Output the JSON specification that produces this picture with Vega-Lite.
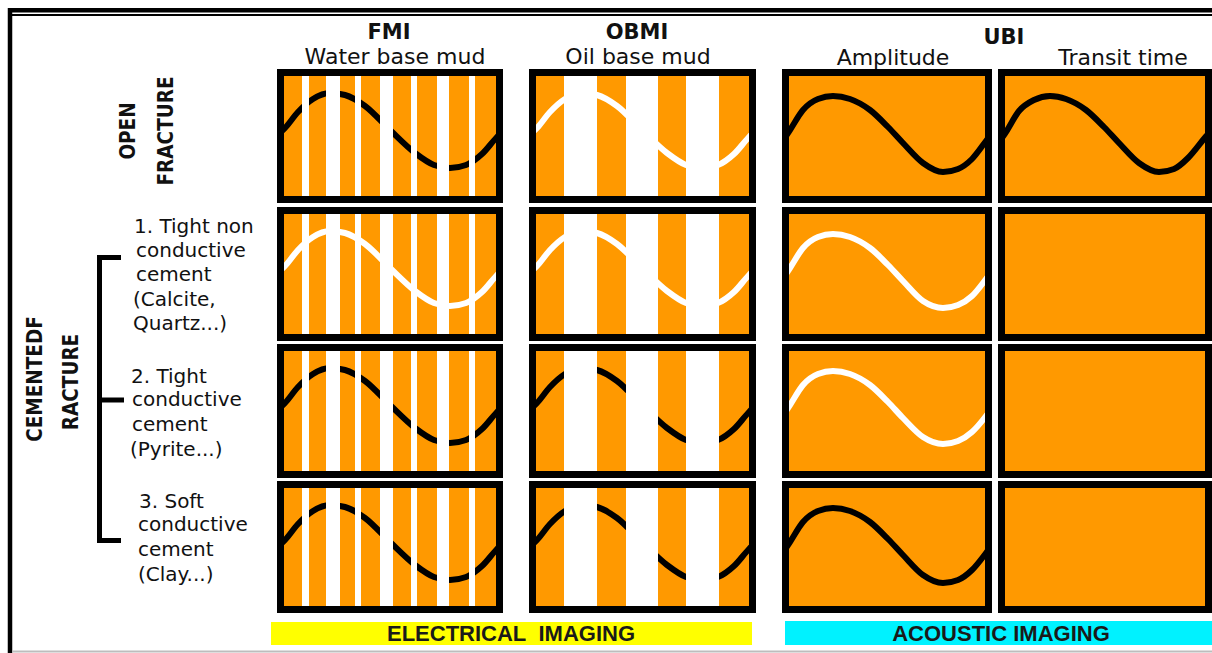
{
  "$schema": "https://vega.github.io/schema/vega-lite/v6.json",
  "width": 1212,
  "height": 653,
  "autosize": {"type": "none"},
  "padding": 0,
  "background": "#ffffff",
  "config": {"view": {"stroke": null}},
  "datasets": {
    "frameThick": [
      {"x": 8, "x2": 1212, "y": 10.3, "y2": 10.3},
      {"x": 10, "x2": 10, "y": 8, "y2": 653}
    ],
    "frameThin": [
      {"x": 12, "x2": 1212, "y": 15, "y2": 15}
    ],
    "frameBottom": [
      {"x": 12, "x2": 1212, "y": 651.5, "y2": 651.5}
    ],
    "bracket": [
      {"x": 99.5, "x2": 99.5, "y": 255, "y2": 543},
      {"x": 97, "x2": 121, "y": 257.5, "y2": 257.5},
      {"x": 99.5, "x2": 124, "y": 400, "y2": 400},
      {"x": 97, "x2": 121, "y": 540.5, "y2": 540.5}
    ],
    "panels": [
      {"col": "FMI", "row": 1, "x": 280.5, "x2": 499.5, "y": 72.5, "y2": 199.5},
      {"col": "FMI", "row": 2, "x": 280.5, "x2": 499.5, "y": 210.5, "y2": 337.5},
      {"col": "FMI", "row": 3, "x": 280.5, "x2": 499.5, "y": 347.5, "y2": 474.5},
      {"col": "FMI", "row": 4, "x": 280.5, "x2": 499.5, "y": 484.5, "y2": 609.5},
      {"col": "OBMI", "row": 1, "x": 532.5, "x2": 752.5, "y": 72.5, "y2": 199.5},
      {"col": "OBMI", "row": 2, "x": 532.5, "x2": 752.5, "y": 210.5, "y2": 337.5},
      {"col": "OBMI", "row": 3, "x": 532.5, "x2": 752.5, "y": 347.5, "y2": 474.5},
      {"col": "OBMI", "row": 4, "x": 532.5, "x2": 752.5, "y": 484.5, "y2": 609.5},
      {"col": "Amplitude", "row": 1, "x": 785.5, "x2": 988.5, "y": 72.5, "y2": 199.5},
      {"col": "Amplitude", "row": 2, "x": 785.5, "x2": 988.5, "y": 210.5, "y2": 337.5},
      {"col": "Amplitude", "row": 3, "x": 785.5, "x2": 988.5, "y": 347.5, "y2": 474.5},
      {"col": "Amplitude", "row": 4, "x": 785.5, "x2": 988.5, "y": 484.5, "y2": 609.5},
      {"col": "Transit", "row": 1, "x": 1001.5, "x2": 1208.5, "y": 72.5, "y2": 199.5},
      {"col": "Transit", "row": 2, "x": 1001.5, "x2": 1208.5, "y": 210.5, "y2": 337.5},
      {"col": "Transit", "row": 3, "x": 1001.5, "x2": 1208.5, "y": 347.5, "y2": 474.5},
      {"col": "Transit", "row": 4, "x": 1001.5, "x2": 1208.5, "y": 484.5, "y2": 609.5}
    ],
    "stripes": [
      {"x": 302, "x2": 309, "y": 69, "y2": 613},
      {"x": 326, "x2": 340, "y": 69, "y2": 613},
      {"x": 355, "x2": 361, "y": 69, "y2": 613},
      {"x": 380, "x2": 393, "y": 69, "y2": 613},
      {"x": 411, "x2": 417, "y": 69, "y2": 613},
      {"x": 437, "x2": 449, "y": 69, "y2": 613},
      {"x": 469, "x2": 475, "y": 69, "y2": 613},
      {"x": 564, "x2": 597, "y": 69, "y2": 613},
      {"x": 626, "x2": 658, "y": 69, "y2": 613},
      {"x": 686, "x2": 719, "y": 69, "y2": 613}
    ],
    "waves": [
      {"curve": "FMI1", "tone": "dark", "x": 281, "y": 132}, {"curve": "FMI1", "tone": "dark", "x": 285, "y": 128}, {"curve": "FMI1", "tone": "dark", "x": 298, "y": 112}, {"curve": "FMI1", "tone": "dark", "x": 313, "y": 99}, {"curve": "FMI1", "tone": "dark", "x": 330, "y": 93}, {"curve": "FMI1", "tone": "dark", "x": 345, "y": 95}, {"curve": "FMI1", "tone": "dark", "x": 365, "y": 106}, {"curve": "FMI1", "tone": "dark", "x": 390, "y": 130}, {"curve": "FMI1", "tone": "dark", "x": 415, "y": 153}, {"curve": "FMI1", "tone": "dark", "x": 434, "y": 165}, {"curve": "FMI1", "tone": "dark", "x": 450, "y": 168}, {"curve": "FMI1", "tone": "dark", "x": 466, "y": 165}, {"curve": "FMI1", "tone": "dark", "x": 482, "y": 154}, {"curve": "FMI1", "tone": "dark", "x": 497, "y": 137}, {"curve": "FMI1", "tone": "dark", "x": 500, "y": 134},
      {"curve": "FMI2", "tone": "light", "x": 281, "y": 270}, {"curve": "FMI2", "tone": "light", "x": 285, "y": 266}, {"curve": "FMI2", "tone": "light", "x": 298, "y": 250}, {"curve": "FMI2", "tone": "light", "x": 313, "y": 237}, {"curve": "FMI2", "tone": "light", "x": 330, "y": 231}, {"curve": "FMI2", "tone": "light", "x": 345, "y": 233}, {"curve": "FMI2", "tone": "light", "x": 365, "y": 244}, {"curve": "FMI2", "tone": "light", "x": 390, "y": 268}, {"curve": "FMI2", "tone": "light", "x": 415, "y": 291}, {"curve": "FMI2", "tone": "light", "x": 434, "y": 303}, {"curve": "FMI2", "tone": "light", "x": 450, "y": 306}, {"curve": "FMI2", "tone": "light", "x": 466, "y": 303}, {"curve": "FMI2", "tone": "light", "x": 482, "y": 292}, {"curve": "FMI2", "tone": "light", "x": 497, "y": 275}, {"curve": "FMI2", "tone": "light", "x": 500, "y": 272},
      {"curve": "FMI3", "tone": "dark", "x": 281, "y": 407}, {"curve": "FMI3", "tone": "dark", "x": 285, "y": 403}, {"curve": "FMI3", "tone": "dark", "x": 298, "y": 387}, {"curve": "FMI3", "tone": "dark", "x": 313, "y": 374}, {"curve": "FMI3", "tone": "dark", "x": 330, "y": 368}, {"curve": "FMI3", "tone": "dark", "x": 345, "y": 370}, {"curve": "FMI3", "tone": "dark", "x": 365, "y": 381}, {"curve": "FMI3", "tone": "dark", "x": 390, "y": 405}, {"curve": "FMI3", "tone": "dark", "x": 415, "y": 428}, {"curve": "FMI3", "tone": "dark", "x": 434, "y": 440}, {"curve": "FMI3", "tone": "dark", "x": 450, "y": 443}, {"curve": "FMI3", "tone": "dark", "x": 466, "y": 440}, {"curve": "FMI3", "tone": "dark", "x": 482, "y": 429}, {"curve": "FMI3", "tone": "dark", "x": 497, "y": 412}, {"curve": "FMI3", "tone": "dark", "x": 500, "y": 409},
      {"curve": "FMI4", "tone": "dark", "x": 281, "y": 544}, {"curve": "FMI4", "tone": "dark", "x": 285, "y": 540}, {"curve": "FMI4", "tone": "dark", "x": 298, "y": 524}, {"curve": "FMI4", "tone": "dark", "x": 313, "y": 511}, {"curve": "FMI4", "tone": "dark", "x": 330, "y": 505}, {"curve": "FMI4", "tone": "dark", "x": 345, "y": 507}, {"curve": "FMI4", "tone": "dark", "x": 365, "y": 518}, {"curve": "FMI4", "tone": "dark", "x": 390, "y": 542}, {"curve": "FMI4", "tone": "dark", "x": 415, "y": 565}, {"curve": "FMI4", "tone": "dark", "x": 434, "y": 577}, {"curve": "FMI4", "tone": "dark", "x": 450, "y": 580}, {"curve": "FMI4", "tone": "dark", "x": 466, "y": 577}, {"curve": "FMI4", "tone": "dark", "x": 482, "y": 566}, {"curve": "FMI4", "tone": "dark", "x": 497, "y": 549}, {"curve": "FMI4", "tone": "dark", "x": 500, "y": 546},
      {"curve": "OBMI1", "tone": "light", "x": 533, "y": 132}, {"curve": "OBMI1", "tone": "light", "x": 537, "y": 128}, {"curve": "OBMI1", "tone": "light", "x": 550, "y": 112}, {"curve": "OBMI1", "tone": "light", "x": 565, "y": 99}, {"curve": "OBMI1", "tone": "light", "x": 582, "y": 93}, {"curve": "OBMI1", "tone": "light", "x": 597, "y": 95}, {"curve": "OBMI1", "tone": "light", "x": 617, "y": 106}, {"curve": "OBMI1", "tone": "light", "x": 642, "y": 130}, {"curve": "OBMI1", "tone": "light", "x": 667, "y": 153}, {"curve": "OBMI1", "tone": "light", "x": 686, "y": 165}, {"curve": "OBMI1", "tone": "light", "x": 702, "y": 168}, {"curve": "OBMI1", "tone": "light", "x": 718, "y": 165}, {"curve": "OBMI1", "tone": "light", "x": 734, "y": 154}, {"curve": "OBMI1", "tone": "light", "x": 749, "y": 137}, {"curve": "OBMI1", "tone": "light", "x": 752, "y": 134},
      {"curve": "OBMI2", "tone": "light", "x": 533, "y": 270}, {"curve": "OBMI2", "tone": "light", "x": 537, "y": 266}, {"curve": "OBMI2", "tone": "light", "x": 550, "y": 250}, {"curve": "OBMI2", "tone": "light", "x": 565, "y": 237}, {"curve": "OBMI2", "tone": "light", "x": 582, "y": 231}, {"curve": "OBMI2", "tone": "light", "x": 597, "y": 233}, {"curve": "OBMI2", "tone": "light", "x": 617, "y": 244}, {"curve": "OBMI2", "tone": "light", "x": 642, "y": 268}, {"curve": "OBMI2", "tone": "light", "x": 667, "y": 291}, {"curve": "OBMI2", "tone": "light", "x": 686, "y": 303}, {"curve": "OBMI2", "tone": "light", "x": 702, "y": 306}, {"curve": "OBMI2", "tone": "light", "x": 718, "y": 303}, {"curve": "OBMI2", "tone": "light", "x": 734, "y": 292}, {"curve": "OBMI2", "tone": "light", "x": 749, "y": 275}, {"curve": "OBMI2", "tone": "light", "x": 752, "y": 272},
      {"curve": "OBMI3", "tone": "dark", "x": 533, "y": 407}, {"curve": "OBMI3", "tone": "dark", "x": 537, "y": 403}, {"curve": "OBMI3", "tone": "dark", "x": 550, "y": 387}, {"curve": "OBMI3", "tone": "dark", "x": 565, "y": 374}, {"curve": "OBMI3", "tone": "dark", "x": 582, "y": 368}, {"curve": "OBMI3", "tone": "dark", "x": 597, "y": 370}, {"curve": "OBMI3", "tone": "dark", "x": 617, "y": 381}, {"curve": "OBMI3", "tone": "dark", "x": 642, "y": 405}, {"curve": "OBMI3", "tone": "dark", "x": 667, "y": 428}, {"curve": "OBMI3", "tone": "dark", "x": 686, "y": 440}, {"curve": "OBMI3", "tone": "dark", "x": 702, "y": 443}, {"curve": "OBMI3", "tone": "dark", "x": 718, "y": 440}, {"curve": "OBMI3", "tone": "dark", "x": 734, "y": 429}, {"curve": "OBMI3", "tone": "dark", "x": 749, "y": 412}, {"curve": "OBMI3", "tone": "dark", "x": 752, "y": 409},
      {"curve": "OBMI4", "tone": "dark", "x": 533, "y": 544}, {"curve": "OBMI4", "tone": "dark", "x": 537, "y": 540}, {"curve": "OBMI4", "tone": "dark", "x": 550, "y": 524}, {"curve": "OBMI4", "tone": "dark", "x": 565, "y": 511}, {"curve": "OBMI4", "tone": "dark", "x": 582, "y": 505}, {"curve": "OBMI4", "tone": "dark", "x": 597, "y": 507}, {"curve": "OBMI4", "tone": "dark", "x": 617, "y": 518}, {"curve": "OBMI4", "tone": "dark", "x": 642, "y": 542}, {"curve": "OBMI4", "tone": "dark", "x": 667, "y": 565}, {"curve": "OBMI4", "tone": "dark", "x": 686, "y": 577}, {"curve": "OBMI4", "tone": "dark", "x": 702, "y": 580}, {"curve": "OBMI4", "tone": "dark", "x": 718, "y": 577}, {"curve": "OBMI4", "tone": "dark", "x": 734, "y": 566}, {"curve": "OBMI4", "tone": "dark", "x": 749, "y": 549}, {"curve": "OBMI4", "tone": "dark", "x": 752, "y": 546},
      {"curve": "AMP1", "tone": "dark", "x": 786, "y": 136}, {"curve": "AMP1", "tone": "dark", "x": 790, "y": 130}, {"curve": "AMP1", "tone": "dark", "x": 803, "y": 110}, {"curve": "AMP1", "tone": "dark", "x": 818, "y": 99}, {"curve": "AMP1", "tone": "dark", "x": 833, "y": 96}, {"curve": "AMP1", "tone": "dark", "x": 850, "y": 99}, {"curve": "AMP1", "tone": "dark", "x": 870, "y": 110}, {"curve": "AMP1", "tone": "dark", "x": 888, "y": 127}, {"curve": "AMP1", "tone": "dark", "x": 903, "y": 143}, {"curve": "AMP1", "tone": "dark", "x": 923, "y": 163}, {"curve": "AMP1", "tone": "dark", "x": 943, "y": 172}, {"curve": "AMP1", "tone": "dark", "x": 958, "y": 169}, {"curve": "AMP1", "tone": "dark", "x": 972, "y": 159}, {"curve": "AMP1", "tone": "dark", "x": 986, "y": 141}, {"curve": "AMP1", "tone": "dark", "x": 989, "y": 137},
      {"curve": "AMP2", "tone": "light", "x": 786, "y": 274}, {"curve": "AMP2", "tone": "light", "x": 790, "y": 268}, {"curve": "AMP2", "tone": "light", "x": 803, "y": 248}, {"curve": "AMP2", "tone": "light", "x": 818, "y": 237}, {"curve": "AMP2", "tone": "light", "x": 833, "y": 234}, {"curve": "AMP2", "tone": "light", "x": 850, "y": 237}, {"curve": "AMP2", "tone": "light", "x": 870, "y": 248}, {"curve": "AMP2", "tone": "light", "x": 888, "y": 265}, {"curve": "AMP2", "tone": "light", "x": 903, "y": 281}, {"curve": "AMP2", "tone": "light", "x": 923, "y": 301}, {"curve": "AMP2", "tone": "light", "x": 943, "y": 308}, {"curve": "AMP2", "tone": "light", "x": 958, "y": 305}, {"curve": "AMP2", "tone": "light", "x": 972, "y": 296}, {"curve": "AMP2", "tone": "light", "x": 986, "y": 279}, {"curve": "AMP2", "tone": "light", "x": 989, "y": 275},
      {"curve": "AMP3", "tone": "light", "x": 786, "y": 411}, {"curve": "AMP3", "tone": "light", "x": 790, "y": 405}, {"curve": "AMP3", "tone": "light", "x": 803, "y": 385}, {"curve": "AMP3", "tone": "light", "x": 818, "y": 374}, {"curve": "AMP3", "tone": "light", "x": 833, "y": 371}, {"curve": "AMP3", "tone": "light", "x": 850, "y": 374}, {"curve": "AMP3", "tone": "light", "x": 870, "y": 385}, {"curve": "AMP3", "tone": "light", "x": 888, "y": 402}, {"curve": "AMP3", "tone": "light", "x": 903, "y": 418}, {"curve": "AMP3", "tone": "light", "x": 923, "y": 437}, {"curve": "AMP3", "tone": "light", "x": 943, "y": 444}, {"curve": "AMP3", "tone": "light", "x": 958, "y": 441}, {"curve": "AMP3", "tone": "light", "x": 972, "y": 432}, {"curve": "AMP3", "tone": "light", "x": 986, "y": 416}, {"curve": "AMP3", "tone": "light", "x": 989, "y": 412},
      {"curve": "AMP4", "tone": "dark", "x": 786, "y": 548}, {"curve": "AMP4", "tone": "dark", "x": 790, "y": 542}, {"curve": "AMP4", "tone": "dark", "x": 803, "y": 522}, {"curve": "AMP4", "tone": "dark", "x": 818, "y": 511}, {"curve": "AMP4", "tone": "dark", "x": 833, "y": 508}, {"curve": "AMP4", "tone": "dark", "x": 850, "y": 511}, {"curve": "AMP4", "tone": "dark", "x": 870, "y": 522}, {"curve": "AMP4", "tone": "dark", "x": 888, "y": 539}, {"curve": "AMP4", "tone": "dark", "x": 903, "y": 555}, {"curve": "AMP4", "tone": "dark", "x": 923, "y": 575}, {"curve": "AMP4", "tone": "dark", "x": 943, "y": 583}, {"curve": "AMP4", "tone": "dark", "x": 958, "y": 580}, {"curve": "AMP4", "tone": "dark", "x": 972, "y": 570}, {"curve": "AMP4", "tone": "dark", "x": 986, "y": 553}, {"curve": "AMP4", "tone": "dark", "x": 989, "y": 549},
      {"curve": "TRN1", "tone": "dark", "x": 1002, "y": 138}, {"curve": "TRN1", "tone": "dark", "x": 1006, "y": 132}, {"curve": "TRN1", "tone": "dark", "x": 1019, "y": 111}, {"curve": "TRN1", "tone": "dark", "x": 1034, "y": 100}, {"curve": "TRN1", "tone": "dark", "x": 1050, "y": 96}, {"curve": "TRN1", "tone": "dark", "x": 1066, "y": 99}, {"curve": "TRN1", "tone": "dark", "x": 1086, "y": 110}, {"curve": "TRN1", "tone": "dark", "x": 1104, "y": 127}, {"curve": "TRN1", "tone": "dark", "x": 1119, "y": 143}, {"curve": "TRN1", "tone": "dark", "x": 1139, "y": 163}, {"curve": "TRN1", "tone": "dark", "x": 1159, "y": 172}, {"curve": "TRN1", "tone": "dark", "x": 1174, "y": 169}, {"curve": "TRN1", "tone": "dark", "x": 1188, "y": 158}, {"curve": "TRN1", "tone": "dark", "x": 1203, "y": 140}, {"curve": "TRN1", "tone": "dark", "x": 1207, "y": 135}
    ],
    "bands": [
      {"band": "ELECTRICAL IMAGING", "x": 271, "x2": 752, "y": 622, "y2": 645},
      {"band": "ACOUSTIC IMAGING", "x": 785, "x2": 1212, "y": 621, "y2": 645}
    ],
    "bandText": [
      {"label": "ELECTRICAL\u00a0\u00a0IMAGING", "x": 511, "y": 634},
      {"label": "ACOUSTIC IMAGING", "x": 1001, "y": 634}
    ],
    "titles": [
      {"label": "FMI", "x": 389, "y": 33},
      {"label": "OBMI", "x": 637, "y": 33},
      {"label": "UBI", "x": 1004, "y": 38}
    ],
    "subtitles": [
      {"label": "Water base mud", "x": 395, "y": 56.5},
      {"label": "Oil base mud", "x": 638, "y": 56.5},
      {"label": "Amplitude", "x": 893, "y": 58},
      {"label": "Transit time", "x": 1123, "y": 58}
    ],
    "rotLabels": [
      {"label": "OPEN", "x": 129, "y": 131},
      {"label": "FRACTURE", "x": 167, "y": 131},
      {"label": "CEMENTEDF", "x": 36, "y": 379},
      {"label": "RACTURE", "x": 72, "y": 382}
    ],
    "notes": [
      {"label": "1. Tight non", "x": 134, "y": 227},
      {"label": "conductive", "x": 136, "y": 251},
      {"label": "cement", "x": 136, "y": 275},
      {"label": "(Calcite,", "x": 133, "y": 300},
      {"label": "Quartz...)", "x": 133, "y": 324},
      {"label": "2. Tight", "x": 131, "y": 377},
      {"label": "conductive", "x": 132, "y": 400},
      {"label": "cement", "x": 132, "y": 425},
      {"label": "(Pyrite...)", "x": 130, "y": 450},
      {"label": "3. Soft", "x": 139, "y": 502},
      {"label": "conductive", "x": 138, "y": 525},
      {"label": "cement", "x": 138, "y": 550},
      {"label": "(Clay...)", "x": 138, "y": 575}
    ]
  },
  "encoding": {
    "x": {"field": "x", "type": "quantitative", "scale": {"domain": [0, 1212], "nice": false, "zero": false}, "axis": null},
    "y": {"field": "y", "type": "quantitative", "scale": {"domain": [0, 653], "nice": false, "zero": false, "reverse": true}, "axis": null}
  },
  "layer": [
    {
      "data": {"name": "frameThick"},
      "mark": {"type": "rule", "color": "#000000", "strokeWidth": 4.5},
      "encoding": {"x2": {"field": "x2"}, "y2": {"field": "y2"}}
    },
    {
      "data": {"name": "frameThin"},
      "mark": {"type": "rule", "color": "#000000", "strokeWidth": 2},
      "encoding": {"x2": {"field": "x2"}, "y2": {"field": "y2"}}
    },
    {
      "data": {"name": "frameBottom"},
      "mark": {"type": "rule", "color": "#bdbdbd", "strokeWidth": 2},
      "encoding": {"x2": {"field": "x2"}, "y2": {"field": "y2"}}
    },
    {
      "data": {"name": "bracket"},
      "mark": {"type": "rule", "color": "#000000", "strokeWidth": 5},
      "encoding": {"x2": {"field": "x2"}, "y2": {"field": "y2"}}
    },
    {
      "data": {"name": "panels"},
      "mark": {"type": "rect", "fill": "#FF9900", "stroke": null},
      "encoding": {"x2": {"field": "x2"}, "y2": {"field": "y2"}}
    },
    {
      "data": {"name": "waves"},
      "mark": {"type": "line", "strokeWidth": 6, "interpolate": "monotone", "strokeCap": "butt"},
      "encoding": {
        "detail": {"field": "curve", "type": "nominal"},
        "stroke": {"field": "tone", "type": "nominal", "scale": {"domain": ["dark", "light"], "range": ["#000000", "#ffffff"]}, "legend": null}
      }
    },
    {
      "data": {"name": "stripes"},
      "mark": {"type": "rect", "fill": "#ffffff", "stroke": null},
      "encoding": {"x2": {"field": "x2"}, "y2": {"field": "y2"}}
    },
    {
      "data": {"name": "panels"},
      "mark": {"type": "rect", "fill": null, "fillOpacity": 0, "stroke": "#000000", "strokeWidth": 7},
      "encoding": {"x2": {"field": "x2"}, "y2": {"field": "y2"}}
    },
    {
      "data": {"name": "bands"},
      "mark": {"type": "rect", "stroke": null},
      "encoding": {
        "x2": {"field": "x2"}, "y2": {"field": "y2"},
        "fill": {"field": "band", "type": "nominal", "scale": {"domain": ["ELECTRICAL IMAGING", "ACOUSTIC IMAGING"], "range": ["#FFFF00", "#00F2FF"]}, "legend": null}
      }
    },
    {
      "data": {"name": "bandText"},
      "mark": {"type": "text", "font": "Liberation Sans", "fontWeight": "bold", "fontSize": 22, "color": "#1a1a1a", "align": "center", "baseline": "middle"},
      "encoding": {"text": {"field": "label"}}
    },
    {
      "data": {"name": "titles"},
      "mark": {"type": "text", "font": "DejaVu Sans", "fontWeight": "bold", "fontSize": 21, "color": "#111111", "align": "center", "baseline": "middle"},
      "encoding": {"text": {"field": "label"}}
    },
    {
      "data": {"name": "subtitles"},
      "mark": {"type": "text", "font": "DejaVu Sans", "fontSize": 22, "color": "#111111", "align": "center", "baseline": "middle"},
      "encoding": {"text": {"field": "label"}}
    },
    {
      "data": {"name": "rotLabels"},
      "mark": {"type": "text", "font": "Liberation Sans Narrow, DejaVu Sans Condensed, sans-serif", "fontWeight": "bold", "fontSize": 20.5, "color": "#111111", "align": "center", "baseline": "middle", "angle": 270},
      "encoding": {"text": {"field": "label"}}
    },
    {
      "data": {"name": "notes"},
      "mark": {"type": "text", "font": "DejaVu Sans", "fontSize": 20, "color": "#111111", "align": "left", "baseline": "middle"},
      "encoding": {"text": {"field": "label"}}
    }
  ]
}
